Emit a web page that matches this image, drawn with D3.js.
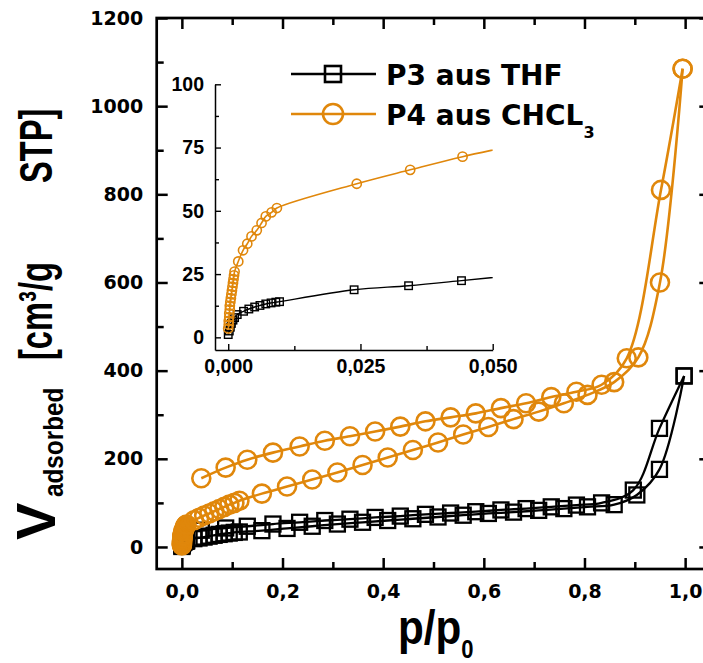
<!DOCTYPE html>
<html><head><meta charset="utf-8">
<script src="https://cdn.jsdelivr.net/npm/d3@7/dist/d3.min.js"></script>
<style>body{margin:0;background:#fff}svg{display:block}</style>
</head><body>
<svg id="chart" width="703" height="663"></svg>
<script>
// ---------- tick values ----------
const xTicksMain = [0, 0.2, 0.4, 0.6, 0.8, 1.0];
const xMinorMain = [0.1, 0.3, 0.5, 0.7, 0.9];
const yTicksMain = [0, 200, 400, 600, 800, 1000, 1200];
const yMinorMain = [100, 300, 500, 700, 900, 1100];
const xTicksInset = [0, 0.025, 0.05];
const xMinorInset = [0.0125, 0.0375];
const yTicksInset = [0, 25, 50, 75, 100];
const yMinorInset = [12.5, 37.5, 62.5, 87.5];
const seriesNames = ["P3 aus THF", "P4 aus CHCL"];

// ---------- P3 aus THF (adsorption / desorption) ----------
const p3AdsP = [0.0000, 0.0002, 0.0004, 0.0006, 0.0009, 0.0012, 0.0017, 0.0029, 0.0039, 0.0050, 0.0060, 0.0071, 0.0081, 0.0090, 0.0097,
  0.0238, 0.0341, 0.0441, 0.0541, 0.0641, 0.0741, 0.0841, 0.0941, 0.1041, 0.1141,
  0.159, 0.209, 0.259, 0.309, 0.359, 0.409, 0.459, 0.509, 0.559, 0.609, 0.659, 0.709, 0.759, 0.806, 0.859, 0.904, 0.949, 0.998];
const p3AdsV = [1.1, 2.5, 4.0, 5.5, 6.8, 7.8, 9.0, 10.3, 11.2, 12.0, 12.6, 13.2, 13.6, 13.9, 14.1,
  18.8, 20.4, 22.4, 24.5, 26.5, 28.5, 30, 31.5, 33, 34,
  37, 42, 47, 52, 56, 60, 64, 68, 72, 76, 79, 83, 87, 91, 96, 118, 176, 388];
const p3DesP = [0.998, 0.949, 0.897, 0.834, 0.784, 0.734, 0.684, 0.634, 0.584, 0.534, 0.484, 0.434, 0.384, 0.334, 0.284, 0.234, 0.181, 0.130, 0.087, 0.0386];
const p3DesV = [388, 269, 129, 100, 95, 91, 87, 84, 80, 77, 74, 70, 67, 63, 60, 56, 52, 47, 43, 38];

// ---------- P4 aus CHCL3 (adsorption / desorption) ----------
const p4AdsP = [0.0000, 0.0001, 0.0001, 0.0002, 0.0002, 0.0003, 0.0003, 0.0004, 0.0005, 0.0006, 0.0007, 0.0008, 0.0009, 0.0010, 0.0011, 0.0012,
  0.0019, 0.0028, 0.0036, 0.0044, 0.0054, 0.0063, 0.0071, 0.0082, 0.0092,
  0.0243, 0.0344, 0.0443, 0.0544, 0.0644, 0.0744, 0.0844, 0.0944, 0.1044, 0.1144,
  0.159, 0.209, 0.259, 0.309, 0.359, 0.409, 0.459, 0.509, 0.559, 0.609, 0.659, 0.709, 0.759, 0.806, 0.859, 0.907, 0.950, 0.995];
const p4AdsV = [3.5, 5.0, 6.5, 8.0, 9.5, 11.0, 12.5, 14.0, 15.5, 17.0, 18.5, 20.0, 21.5, 23.0, 24.5, 26.0,
  30.0, 34.4, 37.0, 39.9, 42.3, 45.2, 47.8, 49.4, 51.1,
  60.7, 66.2, 71.4, 76, 81, 86, 91, 96, 100, 105,
  121, 137, 153, 169, 186, 203, 220, 237, 255, 272, 290, 307, 326, 345, 374, 430, 600, 1085];
const p4DesP = [0.995, 0.952, 0.884, 0.834, 0.784, 0.734, 0.684, 0.634, 0.584, 0.534, 0.484, 0.434, 0.384, 0.334, 0.284, 0.234, 0.181, 0.130, 0.087, 0.0386];
const p4DesV = [1085, 810, 428, 368, 352, 340, 326, 315, 303, 294, 285, 273, 262, 251, 241, 228, 214, 198, 180, 156];

const BLACK = "#000000";
const ORANGE = "#E0870B";

const svg = d3.select("#chart");

// ---------- main scales ----------
const x = d3.scaleLinear().domain([-0.05, 1.05]).range([156.7, 710.3]);
const y = d3.scaleLinear().domain([-50, 1200]).range([569, 18]);

const fmt1 = d => d3.format(".1f")(d).replace(".", ",");
const fmt3 = d => d3.format(".3f")(d).replace(".", ",");

function styleAxis(g, sw, font, fsize) {
  g.select(".domain").remove();
  g.selectAll(".tick line").attr("stroke", "#000").attr("stroke-width", sw);
  g.selectAll(".tick text").attr("font-family", font).attr("font-weight", "bold")
    .attr("font-size", fsize).attr("fill", "#000");
}

const mainFont = "'DejaVu Sans', sans-serif";
// bottom
svg.append("g").attr("transform", "translate(0,569)")
  .call(d3.axisBottom(x).tickValues(xTicksMain).tickSizeInner(-11).tickSizeOuter(0).tickPadding(16).tickFormat(fmt1))
  .call(g => styleAxis(g, 2.5, mainFont, 19));
svg.append("g").attr("transform", "translate(0,569)")
  .call(d3.axisBottom(x).tickValues(xMinorMain).tickSizeInner(-7).tickSizeOuter(0).tickFormat(""))
  .call(g => styleAxis(g, 2.5, mainFont, 19));
// top
svg.append("g").attr("transform", "translate(0,18)")
  .call(d3.axisTop(x).tickValues(xTicksMain).tickSizeInner(-11).tickSizeOuter(0).tickFormat(""))
  .call(g => styleAxis(g, 2.5, mainFont, 19));
svg.append("g").attr("transform", "translate(0,18)")
  .call(d3.axisTop(x).tickValues(xMinorMain).tickSizeInner(-7).tickSizeOuter(0).tickFormat(""))
  .call(g => styleAxis(g, 2.5, mainFont, 19));
// left
svg.append("g").attr("transform", "translate(156.7,0)")
  .call(d3.axisLeft(y).tickValues(yTicksMain).tickSizeInner(-11).tickSizeOuter(0).tickPadding(13.5).tickFormat(d3.format("d")))
  .call(g => styleAxis(g, 2.5, mainFont, 19));
svg.append("g").attr("transform", "translate(156.7,0)")
  .call(d3.axisLeft(y).tickValues(yMinorMain).tickSizeInner(-7).tickSizeOuter(0).tickFormat(""))
  .call(g => styleAxis(g, 2.5, mainFont, 19));
// right
svg.append("g").attr("transform", "translate(710.3,0)")
  .call(d3.axisRight(y).tickValues(yTicksMain).tickSizeInner(-11).tickSizeOuter(0).tickFormat(""))
  .call(g => styleAxis(g, 2.5, mainFont, 19));
svg.append("g").attr("transform", "translate(710.3,0)")
  .call(d3.axisRight(y).tickValues(yMinorMain).tickSizeInner(-7).tickSizeOuter(0).tickFormat(""))
  .call(g => styleAxis(g, 2.5, mainFont, 19));

// frame
svg.append("rect").attr("x", x.range()[0]).attr("y", y.range()[1])
  .attr("width", x.range()[1] - x.range()[0]).attr("height", y.range()[0] - y.range()[1])
  .attr("fill", "none").attr("stroke", "#000").attr("stroke-width", 2.7);

// ---------- series drawing ----------
function drawSeries(parent, xs, ys, P, V, color, shape, size, lw, filterFn) {
  const pts = d3.zip(P, V);
  const line = d3.line().x(d => xs(d[0])).y(d => ys(d[1])).curve(d3.curveCatmullRom.alpha(0.5));
  parent.append("path").attr("d", line(pts)).attr("fill", "none")
    .attr("stroke", color).attr("stroke-width", lw);
  const mpts = filterFn ? pts.filter(filterFn) : pts;
  if (shape === "square") {
    parent.selectAll(null).data(mpts).enter().append("rect")
      .attr("x", d => xs(d[0]) - size / 2).attr("y", d => ys(d[1]) - size / 2)
      .attr("width", size).attr("height", size)
      .attr("fill", "none").attr("stroke", color).attr("stroke-width", lw);
  } else {
    parent.selectAll(null).data(mpts).enter().append("circle")
      .attr("cx", d => xs(d[0])).attr("cy", d => ys(d[1])).attr("r", size)
      .attr("fill", "none").attr("stroke", color).attr("stroke-width", lw);
  }
}

const mainG = svg.append("g");
drawSeries(mainG, x, y, p3AdsP, p3AdsV, BLACK, "square", 15, 2.3);
drawSeries(mainG, x, y, p3DesP, p3DesV, BLACK, "square", 15, 2.3);
drawSeries(mainG, x, y, p4AdsP, p4AdsV, ORANGE, "circle", 9, 2.6);
drawSeries(mainG, x, y, p4DesP, p4DesV, ORANGE, "circle", 9, 2.6);

// ---------- inset ----------
const xi = d3.scaleLinear().domain([-0.0025, 0.05]).range([215, 492.7]);
const yi = d3.scaleLinear().domain([-5, 100]).range([350, 84.3]);
const insetFont = "'Liberation Sans', Arial, sans-serif";

svg.append("defs").append("clipPath").attr("id", "insetClip")
  .append("rect").attr("x", 215).attr("y", 70).attr("width", 277.7).attr("height", 280);

function styleInset(g, keepDomain) {
  if (!keepDomain) g.select(".domain").remove();
  else g.select(".domain").attr("stroke", "#000").attr("stroke-width", 1.5);
  g.selectAll(".tick line").attr("stroke", "#000").attr("stroke-width", 1.4);
  g.selectAll(".tick text").attr("font-family", insetFont).attr("font-weight", "bold")
    .attr("font-size", 19.5).attr("fill", "#000");
}
svg.append("g").attr("transform", "translate(215,0)")
  .call(d3.axisLeft(yi).tickValues(yTicksInset).tickSizeInner(-6).tickSizeOuter(0).tickPadding(11).tickFormat(d3.format("d")))
  .call(g => styleInset(g, true));
svg.append("g").attr("transform", "translate(215,0)")
  .call(d3.axisLeft(yi).tickValues(yMinorInset).tickSizeInner(-4).tickSizeOuter(0).tickFormat(""))
  .call(g => styleInset(g, false));
svg.append("g").attr("transform", "translate(0,350)")
  .call(d3.axisBottom(xi).tickValues(xTicksInset).tickSizeInner(-6).tickSizeOuter(0).tickPadding(9).tickFormat(fmt3))
  .call(g => styleInset(g, true));
svg.append("g").attr("transform", "translate(0,350)")
  .call(d3.axisBottom(xi).tickValues(xMinorInset).tickSizeInner(-4).tickSizeOuter(0).tickFormat(""))
  .call(g => styleInset(g, false));

const insetG = svg.append("g").attr("clip-path", "url(#insetClip)");
const inRange = d => d[0] <= 0.05;
drawSeries(insetG, xi, yi, p3AdsP, p3AdsV, BLACK, "square", 7.5, 1.4, inRange);
drawSeries(insetG, xi, yi, p4AdsP, p4AdsV, ORANGE, "circle", 4.6, 1.6, inRange);

// ---------- legend ----------
const legend = svg.append("g");
const legendRows = [
  {name: seriesNames[0], color: BLACK, shape: "square", ly: 74, ty: 85},
  {name: seriesNames[1], color: ORANGE, shape: "circle", ly: 114, ty: 125}
];
legendRows.forEach(r => {
  legend.append("line").attr("x1", 291).attr("x2", 376).attr("y1", r.ly).attr("y2", r.ly)
    .attr("stroke", r.color).attr("stroke-width", 2.6);
  if (r.shape === "square") {
    legend.append("rect").attr("x", 333 - 8).attr("y", r.ly - 8).attr("width", 16).attr("height", 16)
      .attr("fill", "none").attr("stroke", r.color).attr("stroke-width", 2.6);
  } else {
    legend.append("circle").attr("cx", 333).attr("cy", r.ly).attr("r", 10)
      .attr("fill", "none").attr("stroke", r.color).attr("stroke-width", 2.6);
  }
  const t = legend.append("text").attr("x", 386).attr("y", r.ty)
    .attr("font-family", mainFont).attr("font-weight", "bold").attr("font-size", 28).attr("fill", "#000")
    .text(r.name);
  if (r.shape === "circle") {
    t.append("tspan").attr("font-size", 16).attr("dy", 13).text("3");
  }
});

// ---------- axis titles ----------
const titleFont = "'Liberation Sans', Arial, sans-serif";
const xt = svg.append("g").attr("transform", "translate(398,644) scale(0.88,1)")
  .append("text").attr("x", 0).attr("y", 0)
  .attr("font-family", titleFont).attr("font-weight", "bold").attr("font-size", 48).attr("fill", "#000");
xt.append("tspan").text("p/p");
xt.append("tspan").attr("font-size", 25).attr("dy", 14).text("0");

const yt = svg.append("g").attr("transform", "rotate(-90)");
yt.append("text").attr("x", -540).attr("y", 55)
  .attr("font-family", titleFont).attr("font-weight", "bold").attr("font-size", 56).attr("fill", "#000").text("V");
yt.append("g").attr("transform", "translate(-497,63) scale(0.9,1)")
  .append("text").attr("font-family", titleFont).attr("font-weight", "bold").attr("font-size", 27).attr("fill", "#000")
  .text("adsorbed");
yt.append("g").attr("transform", "translate(-360,52) scale(0.71,1)")
  .append("text").attr("font-family", titleFont).attr("font-weight", "bold").attr("font-size", 46).attr("fill", "#000")
  .text("[cm³/g");
yt.append("g").attr("transform", "translate(-183,52) scale(0.71,1)")
  .append("text").attr("font-family", titleFont).attr("font-weight", "bold").attr("font-size", 46).attr("fill", "#000")
  .text("STP]");
</script>
</body></html>
